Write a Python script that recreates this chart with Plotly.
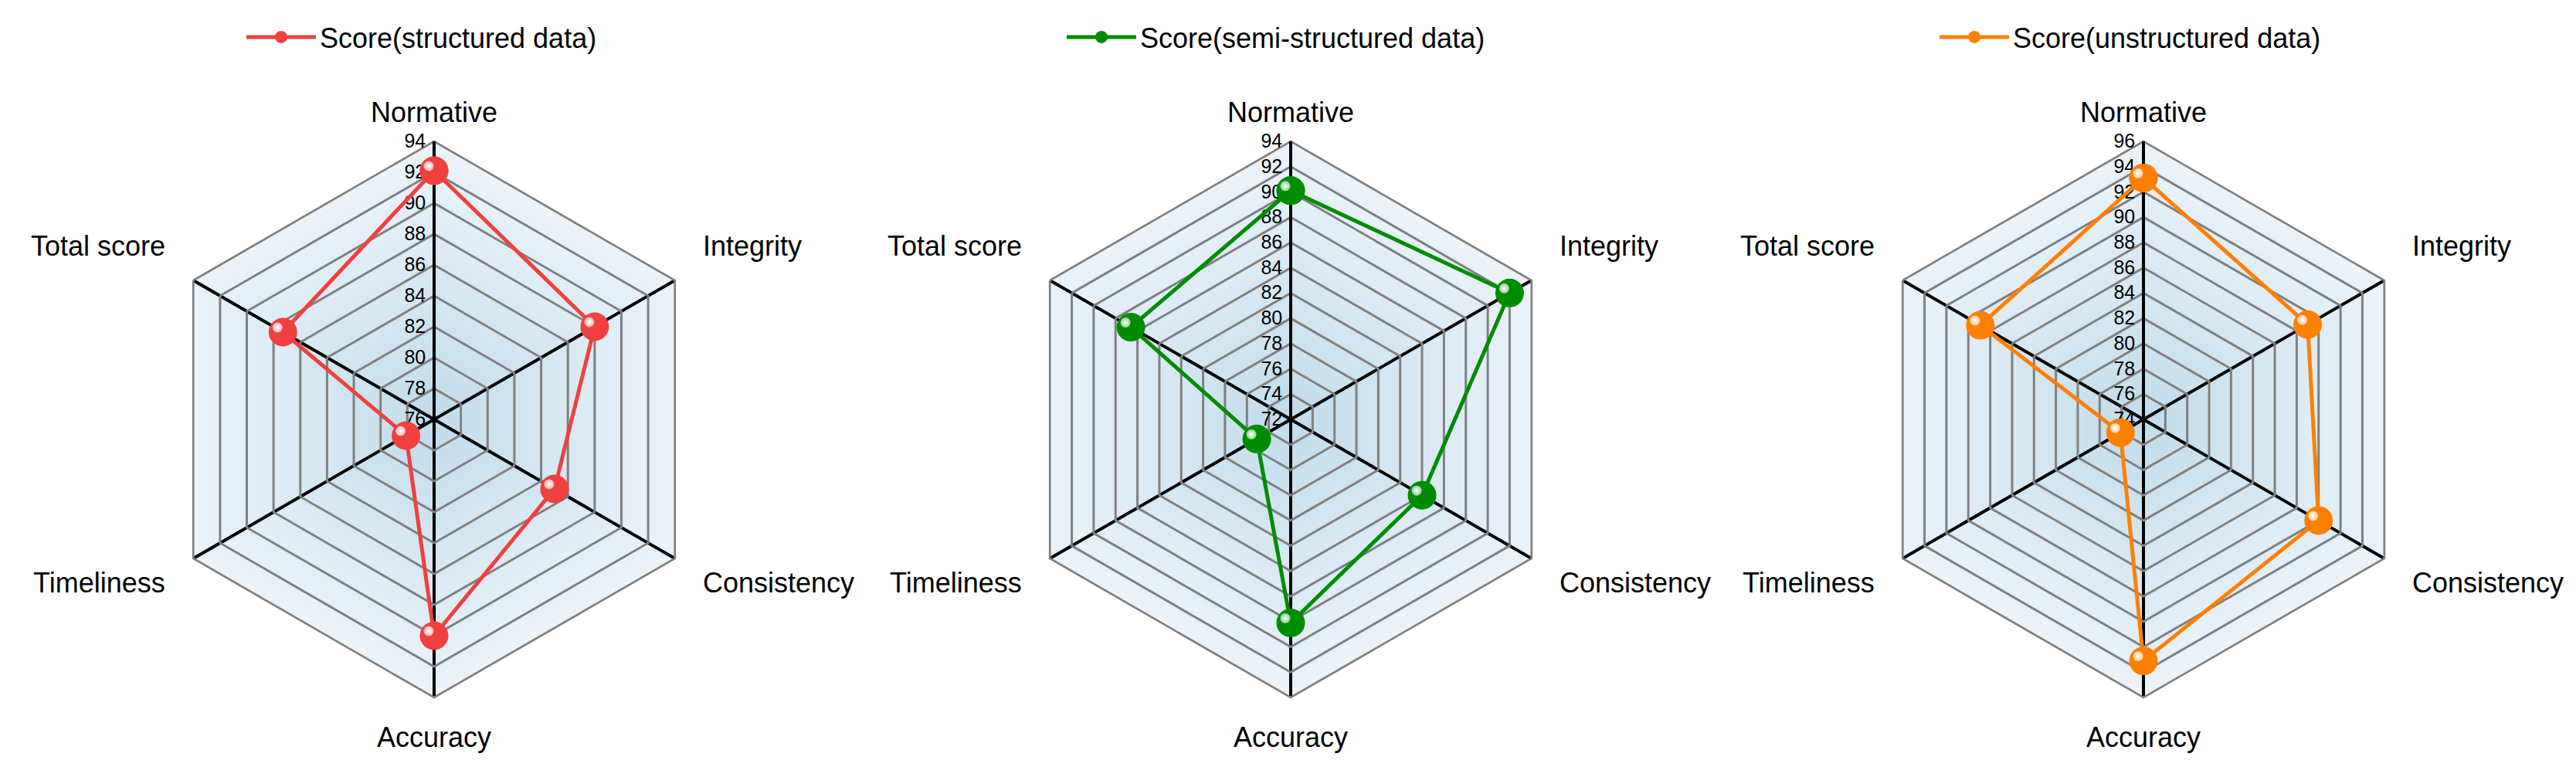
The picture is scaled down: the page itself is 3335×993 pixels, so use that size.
import plotly.graph_objects as go

# ---------------- data ----------------
categories = ["Normative", "Integrity", "Consistency", "Accuracy", "Timeliness", "Total score"]
structured = [92.1, 88.0, 85.0, 90.0, 78.1, 87.3]
semi_structured = [90.1, 92.0, 84.0, 88.1, 75.1, 86.6]
unstructured = [93.1, 89.0, 90.0, 93.1, 76.1, 88.9]
series_names = ["Score(structured data)", "Score(semi-structured data)", "Score(unstructured data)"]
series_values = [structured, semi_structured, unstructured]
radial_ranges = [[76, 94], [72, 94], [74, 96]]

# ---------------- styles ----------------
colors = ["#EF4040", "#008C00", "#FF8000"]
tints = ["#F8B0B0", "#8FD08F", "#FFC890"]
FONT = "Arial, Liberation Sans, sans-serif"
W, H = 3335, 993
centers_x = [554, 1663, 2767]
cy = 535
R = 360
legend_x = [306, 1368, 2498]
hl_dx, hl_dy = -7, 6  # highlight offset in px

c_in = (192, 219, 235)
c_out = (235, 243, 249)
N_STEPS = 40

# label placement relative to each chart centre: (dx, dy, xanchor)
label_offsets = [
    (0, -398, "center"),
    (312 + 34, -225, "left"),
    (312 + 34, 211, "left"),
    (0, 411, "center"),
    (-312 - 34, 211, "right"),
    (-312 - 34, -225, "right"),
]

fig = go.Figure()
layout = dict(width=W, height=H, margin=dict(l=0, r=0, t=0, b=0),
              paper_bgcolor="white", plot_bgcolor="white",
              font=dict(family=FONT, color="black"))
annotations = []


def dom(cx, dx=0, dy=0):
    return dict(x=[(cx - R + dx) / W, (cx + R + dx) / W],
                y=[1 - (cy + R - dy) / H, 1 - (cy - R - dy) / H])


def hidden_polar(cx, rng, dx=0, dy=0):
    return dict(
        domain=dom(cx, dx, dy), gridshape="linear", bgcolor="rgba(0,0,0,0)",
        radialaxis=dict(range=rng, visible=False, showgrid=False, showline=False,
                        showticklabels=False, ticks=""),
        angularaxis=dict(categoryarray=categories, categoryorder="array",
                         direction="clockwise", rotation=90, showgrid=False,
                         showline=False, showticklabels=False, ticks=""),
    )


theta_closed = categories + [categories[0]]

for i in range(3):
    rng = radial_ranges[i]
    cx = centers_x[i]
    bg_id = "polar" if i == 0 else f"polar{i + 1}"
    main_id = f"polar{i + 4}"
    hl_id = f"polar{i + 7}"
    legend_id = "legend" if i == 0 else f"legend{i + 1}"

    # background gradient (concentric hexagons)
    layout[bg_id] = hidden_polar(cx, rng)
    for k in range(N_STEPS, 0, -1):
        t = k / N_STEPS
        col = tuple(round(c_in[j] + (c_out[j] - c_in[j]) * t) for j in range(3))
        rr = rng[0] + (rng[1] - rng[0]) * t
        fig.add_trace(go.Scatterpolar(
            r=[rr] * 7, theta=theta_closed, mode="lines", fill="toself",
            fillcolor="rgb(%d,%d,%d)" % col, line=dict(width=0, color="rgba(0,0,0,0)"),
            showlegend=False, hoverinfo="skip", subplot=bg_id))

    # main axes
    layout[main_id] = dict(
        domain=dom(cx), gridshape="linear", bgcolor="rgba(0,0,0,0)",
        radialaxis=dict(range=rng, tick0=rng[0], dtick=2, angle=90,
                        side="counterclockwise", tickangle=90,
                        showline=True, linecolor="black", linewidth=4,
                        gridcolor="#808080", gridwidth=2.7, ticks="",
                        layer="below traces",
                        tickfont=dict(size=25, family=FONT, color="black")),
        angularaxis=dict(categoryarray=categories, categoryorder="array",
                         direction="clockwise", rotation=90,
                         gridcolor="black", gridwidth=4,
                         showline=True, linecolor="#808080", linewidth=2.7,
                         ticks="", showticklabels=False, layer="below traces"),
    )
    vals = series_values[i]
    fig.add_trace(go.Scatterpolar(
        r=vals + [vals[0]], theta=theta_closed, mode="lines+markers",
        name=series_names[i], line=dict(color=colors[i], width=5),
        marker=dict(size=37, color=colors[i]),
        subplot=main_id, legend=legend_id))

    # highlight layer (shifted copy of same scales)
    layout[hl_id] = hidden_polar(cx, rng, hl_dx, hl_dy)
    fig.add_trace(go.Scatterpolar(
        r=vals, theta=categories, mode="markers",
        marker=dict(size=13, color=tints[i], gradient=dict(type="radial", color="white")),
        showlegend=False, hoverinfo="skip", subplot=hl_id))

    layout[legend_id] = dict(
        x=legend_x[i] / W, xanchor="left", y=1 - 40 / H, yanchor="middle",
        orientation="h", itemwidth=90, bgcolor="rgba(0,0,0,0)",
        font=dict(size=36, family=FONT, color="black"))

    for name, (dx, dy, xa) in zip(categories, label_offsets):
        annotations.append(dict(
            text=name, x=(cx + dx) / W, y=1 - (cy + dy) / H, xref="paper", yref="paper",
            xanchor=xa, yanchor="middle", showarrow=False,
            font=dict(size=36, family=FONT, color="black")))

layout["annotations"] = annotations
fig.update_layout(**layout)
fig.write_html("out.html")
